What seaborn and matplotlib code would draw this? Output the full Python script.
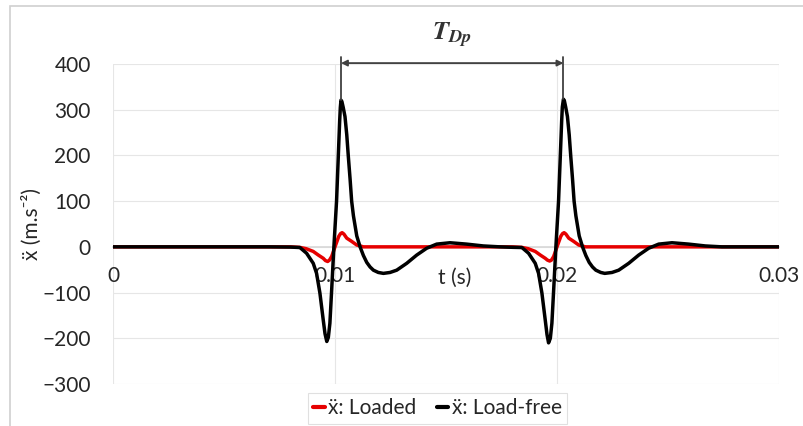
import numpy as np
import pandas as pd
import matplotlib
matplotlib.use("Agg")
import matplotlib.pyplot as plt
import seaborn as sns
from matplotlib.patches import Rectangle
from matplotlib.lines import Line2D

# ---------------- data ----------------
t_loadfree = [0.0, 0.0070, 0.0080, 0.00842, 0.00872, 0.00902, 0.00917, 0.00932, 0.00947,
              0.00955, 0.00963, 0.00970, 0.00977, 0.00985, 0.00995, 0.01007, 0.01015,
              0.01021, 0.01024, 0.01027, 0.01031, 0.01037, 0.01045, 0.01053, 0.01060,
              0.01068, 0.01075, 0.01083, 0.01098, 0.01113, 0.01128, 0.01143, 0.01158,
              0.01173, 0.01195, 0.01218, 0.01248, 0.01278, 0.01323, 0.01368,
              0.01413, 0.01458, 0.01518, 0.01593, 0.01668, 0.01743, 0.01800,
              0.01842, 0.01872, 0.01902, 0.01917, 0.01932, 0.01947, 0.01955, 0.01962,
              0.01970, 0.01977, 0.01985, 0.01995, 0.02007, 0.02015, 0.02021, 0.02024,
              0.02029, 0.02033, 0.02039, 0.02047, 0.02055, 0.02062, 0.02070, 0.02077,
              0.02085, 0.02100, 0.02115, 0.02130, 0.02145, 0.02160, 0.02175, 0.02197,
              0.02215, 0.02248, 0.02278, 0.02323, 0.02368, 0.02413, 0.02458,
              0.02518, 0.02593, 0.02668, 0.02743, 0.02850, 0.03000]
acc_loadfree = [0, 0, -0.5, -1.5, -14, -36, -58, -101, -160,
                -190, -207, -198, -167, -94, 0, 100, 200,
                275, 305, 321, 318, 305, 285, 245, 198,
                148, 100, 68, 24, 0, -19, -34, -44,
                -51, -56, -58, -56, -51, -36, -18,
                -3, 6, 9, 6, 2, 0, -1,
                -1.5, -14, -36, -58, -101, -160, -192, -210,
                -200, -167, -94, 0, 100, 200, 275, 306,
                323, 320, 306, 285, 245, 198, 148, 100,
                68, 24, 0, -19, -34, -44, -51, -56,
                -58, -56, -51, -36, -18, -3, 6,
                9, 6, 2, 0, 0, 0]

t_loaded = [0.0, 0.0080, 0.0084, 0.0087, 0.00902, 0.00925, 0.00947, 0.00957, 0.00967,
            0.00975, 0.00985, 0.01000, 0.01017, 0.01025, 0.01032, 0.01040, 0.01053,
            0.01075, 0.01098, 0.01128, 0.0180,
            0.0184, 0.0187, 0.01902, 0.01925, 0.01947, 0.01957, 0.01967,
            0.01975, 0.01985, 0.02000, 0.02017, 0.02025, 0.02032, 0.02040, 0.02053,
            0.02075, 0.02098, 0.02128, 0.03000]
acc_loaded = [0, 0, -1, -4, -10, -18, -25, -30, -32,
              -29, -21, 0, 23, 29, 31, 28, 19,
              12, 4, 0, 0,
              -1, -4, -10, -18, -25, -29, -31,
              -29, -21, 0, 23, 29, 31, 28, 19,
              12, 4, 0, 0]

series_names = ["\u1e8d: Loaded", "\u1e8d: Load-free"]
series_colors = ["#e60000", "#000000"]
x_ticks = [0, 0.01, 0.02, 0.03]
x_tick_labels = ["0", "0.01", "0.02", "0.03"]
y_ticks = [-300, -200, -100, 0, 100, 200, 300, 400]
x_label = "t (s)"
y_label = "\u1e8d (m.s\u207b\u00b2)"
period_label = r"$\mathbfit{T}_{\mathbfit{Dp}}$"

# ---------------- styling ----------------
sns.set_theme(style="white")
plt.rcParams["font.family"] = ["Lato", "DejaVu Sans"]
plt.rcParams["mathtext.fontset"] = "stix"
text_color = "#262626"
fs = 15

W, H = 804, 426
fig = plt.figure(figsize=(W / 100, H / 100), dpi=100)
fig.patch.set_facecolor("white")
# outer chart border
fig.patches.append(Rectangle((10 / W, -0.02), 1.1, 1.02 - 6 / H, transform=fig.transFigure,
                             fill=False, edgecolor="#d0d0d0", lw=1.2, zorder=0))

ax = fig.add_axes([113 / W, 1 - 384 / H, 666 / W, 320 / H])

df = pd.concat([
    pd.DataFrame({"t": t_loaded, "acc": acc_loaded, "series": series_names[0]}),
    pd.DataFrame({"t": t_loadfree, "acc": acc_loadfree, "series": series_names[1]}),
], ignore_index=True)

sns.lineplot(data=df, x="t", y="acc", hue="series", hue_order=series_names,
             palette=dict(zip(series_names, series_colors)), estimator=None,
             sort=False, lw=2.5, ax=ax, legend=False)

ax.set_xlim(0, 0.03)
ax.set_ylim(-300, 400)
ax.set_xticks(x_ticks)
ax.set_xticklabels(x_tick_labels)
ax.set_yticks(y_ticks)
ax.set_yticklabels([str(v).replace("-", "\u2212") for v in y_ticks])
ax.grid(True, color="#e6e6e6", lw=0.8)
ax.set_axisbelow(True)
for s in ["top", "right", "left"]:
    ax.spines[s].set_visible(False)
ax.spines["bottom"].set_position(("data", 0))
ax.spines["bottom"].set_color("#d9d9d9")
ax.spines["bottom"].set_zorder(1)
ax.tick_params(axis="both", length=0, labelsize=fs, colors=text_color)
ax.tick_params(axis="x", pad=14)
ax.tick_params(axis="y", pad=16)
ax.set_xlabel("")
ax.set_ylabel(y_label, fontsize=fs, color=text_color)
ax.yaxis.set_label_coords(-71 / 666, 0.5)

ax.annotate(x_label, xy=(0.513, 0), xycoords=("axes fraction", "data"),
            xytext=(0, -31), textcoords="offset pixels", ha="center", va="center",
            fontsize=fs, color=text_color)

# period annotation between the two load-free peaks
tb = np.array(t_loadfree)
ab = np.array(acc_loadfree)
m1 = tb < 0.015
i1 = np.argmax(np.where(m1, ab, -np.inf))
i2 = np.argmax(np.where(~m1, ab, -np.inf))
tp1, tp2 = tb[i1], tb[i2]
ann_col = "#404040"
for tp, pk in [(tp1, ab[i1]), (tp2, ab[i2])]:
    ax.plot([tp, tp], [pk, 416], color=ann_col, lw=1.3, clip_on=False, zorder=5)
ax.annotate("", xy=(tp1, 402), xytext=(tp2, 402), annotation_clip=False,
            arrowprops=dict(arrowstyle="<|-|>", color=ann_col, lw=1.3,
                            mutation_scale=9, shrinkA=0, shrinkB=0))
ax.text((tp1 + tp2) / 2, 462, period_label, ha="center", va="center",
        fontsize=19, color="#333333", clip_on=False)

handles = [Line2D([0], [0], color=c, lw=3) for c in series_colors]
leg = fig.legend(handles, series_names, loc="center",
                 bbox_to_anchor=(437.5 / W, 1 - 408.5 / H), ncol=2, frameon=True,
                 fancybox=False, edgecolor="#d9d9d9", handlelength=0.55,
                 handletextpad=0.15, columnspacing=1.0, fontsize=fs, borderpad=0.25)
leg.get_frame().set_linewidth(0.8)
for txt in leg.get_texts():
    txt.set_color(text_color)

fig.savefig("out.png", dpi=100)
